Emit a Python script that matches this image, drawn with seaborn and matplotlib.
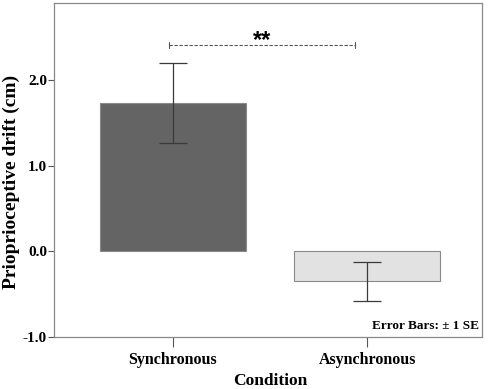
import matplotlib
matplotlib.use("Agg")
import matplotlib.pyplot as plt
import seaborn as sns
import pandas as pd

# values
conditions = ["Synchronous", "Asynchronous"]
drift_mean = [1.73, -0.35]
drift_se = [0.465, 0.23]
bar_colors = ["#646464", "#e2e2e2"]
yticks = [-1.0, 0.0, 1.0, 2.0]
sig_label = "**"
sig_y = 2.41

df = pd.DataFrame({"Condition": conditions, "drift": drift_mean})

sns.set_style("white")
plt.rcParams["font.family"] = ["Liberation Serif", "DejaVu Serif"]
plt.rcParams["font.weight"] = "bold"
plt.rcParams["text.color"] = "black"
plt.rcParams["axes.labelcolor"] = "black"
plt.rcParams["xtick.labelcolor"] = "black"
plt.rcParams["ytick.labelcolor"] = "black"

fig = plt.figure(figsize=(4.9, 3.89), dpi=100)
ax = fig.add_axes([0.110, 0.134, 0.874, 0.858])

sns.barplot(data=df, x="Condition", y="drift", hue="Condition",
            palette=bar_colors, errorbar=None, width=0.75,
            edgecolor="#8a8a8a", linewidth=0.8, legend=False, ax=ax)
ax.errorbar(range(len(conditions)), drift_mean, yerr=drift_se, fmt="none",
            ecolor="#3a3a3a", elinewidth=0.9, capsize=10, capthick=0.9)

# significance bracket
ax.plot([-0.02, 0.94], [sig_y, sig_y], ls=(0, (3, 1.5)), color="#555555", lw=0.8)
for xx in (-0.02, 0.94):
    ax.plot([xx, xx], [sig_y - 0.04, sig_y + 0.04], color="#555555", lw=0.8)
ax.text(0.46, sig_y - 0.025, sig_label, ha="center", va="baseline", fontsize=17,
        fontweight="bold", family=["Liberation Sans", "DejaVu Sans"])

ax.set_xlim(-0.613, 1.593)
ax.set_ylim(-1.0, 2.9)
ax.set_yticks(yticks)
ax.set_yticklabels([f"{t:.1f}" for t in yticks], fontsize=11, fontweight="bold")
ax.set_xticks(range(len(conditions)))
ax.set_xticklabels(conditions, fontsize=11.5, fontweight="bold")
ax.tick_params(axis="y", direction="out", length=4, width=0.8,
               color="#555555", left=True, pad=1)
ax.tick_params(axis="x", direction="out", length=7, width=0.8,
               color="#555555", bottom=True, pad=4)
for s in ax.spines.values():
    s.set_color("#888888")
    s.set_linewidth(0.9)

ax.set_xlabel("Condition", fontsize=12.5, fontweight="bold")
ax.xaxis.set_label_coords(0.505, -0.108)
ax.set_ylabel("Prioprioceptive drift (cm)", fontsize=14, fontweight="bold")
ax.yaxis.label.set_va("center")
ax.yaxis.set_label_coords(-0.1, 0.463)
ax.text(0.993, 0.015, "Error Bars: \u00b1 1 SE", transform=ax.transAxes,
        ha="right", va="bottom", fontsize=9.5, fontweight="bold")

fig.savefig("out.png", dpi=100)
